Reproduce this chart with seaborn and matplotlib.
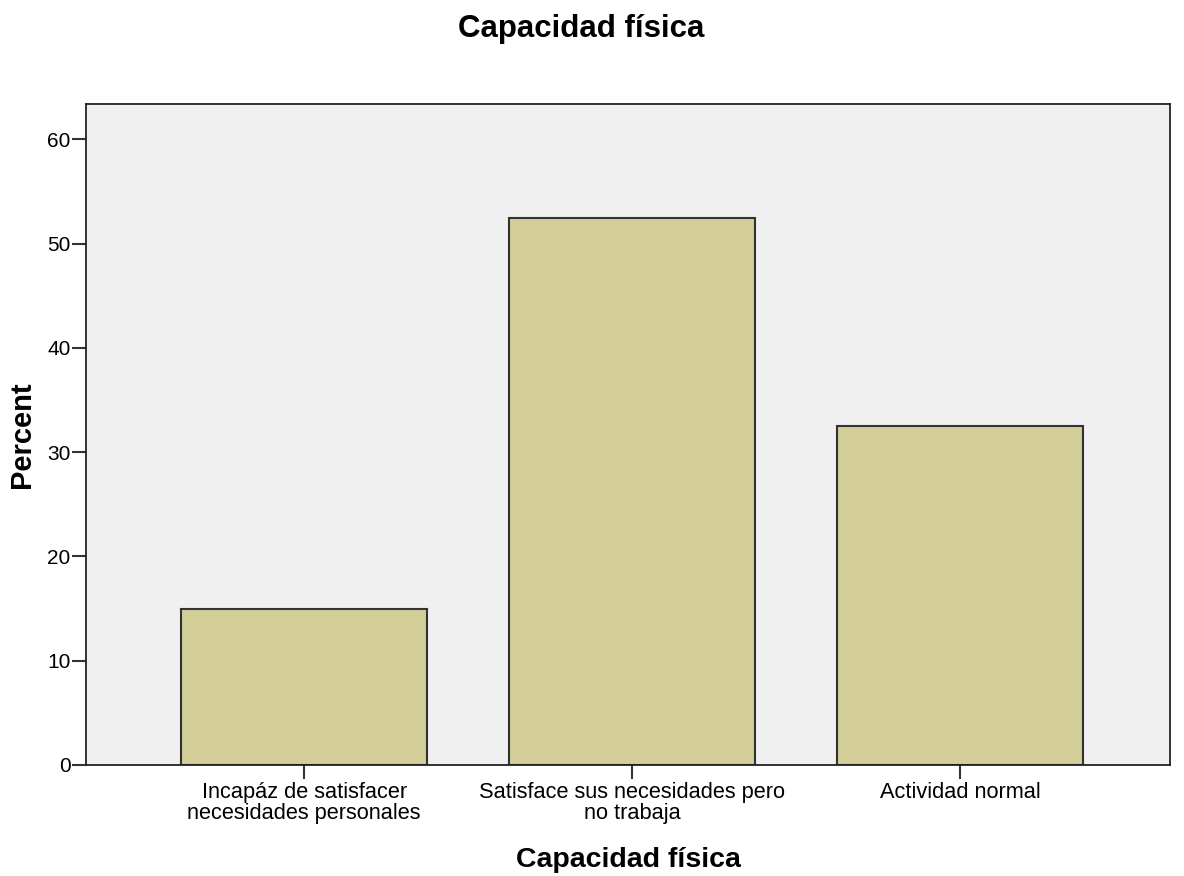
import numpy as np
import pandas as pd
import matplotlib
matplotlib.use("Agg")
import matplotlib.pyplot as plt
import seaborn as sns

# ## Data ## #
categories = ["Incapáz de satisfacer\nnecesidades personales",
              "Satisface sus necesidades pero\nno trabaja",
              "Actividad normal"]
percent = [15.0, 52.5, 32.5]
y_ticks = [0, 10, 20, 30, 40, 50, 60]

df = pd.DataFrame({"categoria": categories, "percent": percent})

# ## Style ## #
sns.set_style("white")
plt.rcParams["font.family"] = ["Liberation Sans", "DejaVu Sans"]

fig = plt.figure(figsize=(11.84, 8.76), dpi=100)
ax = fig.add_axes([86 / 1184, 1 - 765 / 876, (1170 - 86) / 1184, (765 - 104) / 876])
ax.set_facecolor("#f0f0f0")

sns.barplot(data=df, x="categoria", y="percent", color="#d3ce97", saturation=1,
            width=0.75, edgecolor="#333333", linewidth=1.5, ax=ax)

# Axes limits and ticks
ax.set_xlim(-0.665, 2.64)
ax.set_ylim(0, 63.4)
ax.set_yticks(y_ticks)
ax.tick_params(axis="both", direction="out", length=10, width=1.5, color="#333333",
               bottom=True, left=True, labelcolor="black")
ax.tick_params(axis="y", labelsize=15, pad=1)
ax.tick_params(axis="x", labelsize=15.7, pad=2)
for lab in ax.get_xticklabels():
    lab.set_linespacing(1.05)

for side in ["left", "bottom", "top", "right"]:
    ax.spines[side].set_visible(True)
    ax.spines[side].set_color("#222222")
    ax.spines[side].set_linewidth(1.3)

ax.set_xlabel("Capacidad física", fontsize=20.5, fontweight="bold", labelpad=16, color="black")
ax.set_ylabel("Percent", fontsize=21, fontweight="bold", labelpad=8, color="black")
fig.suptitle("Capacidad física", fontsize=22.5, fontweight="bold", y=1 - 29 / 876,
             va="center", x=581 / 1184, color="black")

fig.savefig("out.png", dpi=100)
